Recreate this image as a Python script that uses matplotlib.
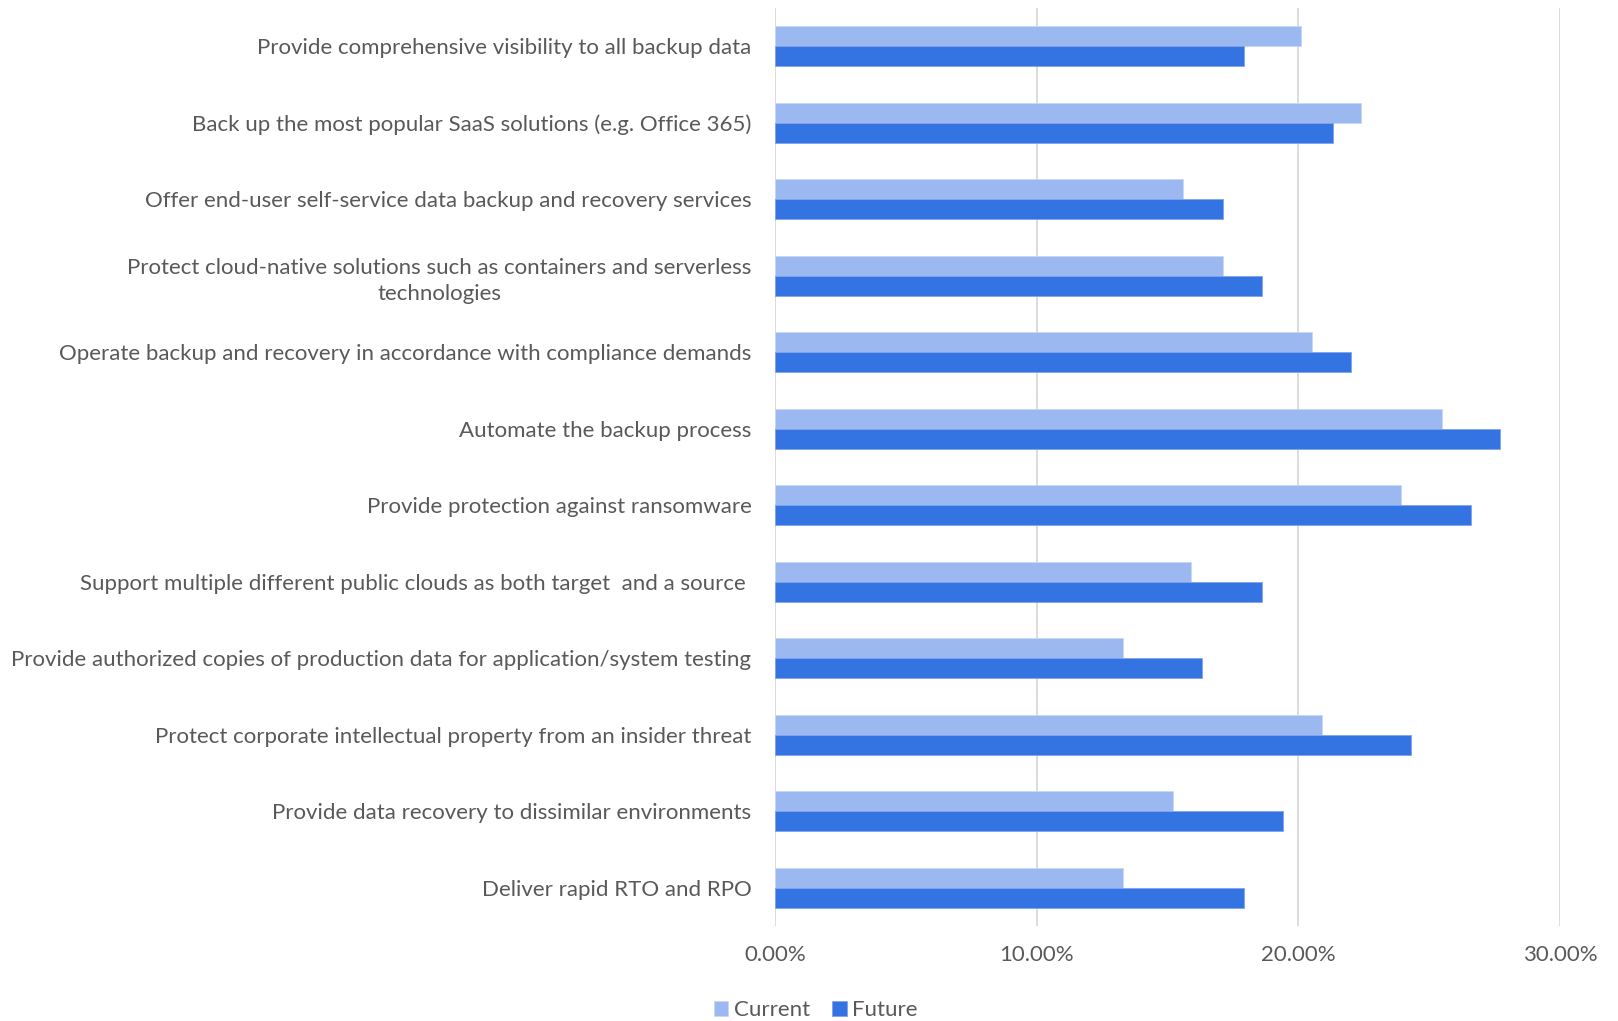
import numpy as np
import matplotlib.pyplot as plt
from matplotlib.ticker import PercentFormatter

plt.rcParams['font.family'] = ['Lato', 'DejaVu Sans']

categories = [
    "Provide comprehensive visibility to all backup data",
    "Back up the most popular SaaS solutions (e.g. Office 365)",
    "Offer end-user self-service data backup and recovery services",
    "Protect cloud-native solutions such as containers and serverless\ntechnologies",
    "Operate backup and recovery in accordance with compliance demands",
    "Automate the backup process",
    "Provide protection against ransomware",
    "Support multiple different public clouds as both target  and a source ",
    "Provide authorized copies of production data for application/system testing",
    "Protect corporate intellectual property from an insider threat",
    "Provide data recovery to dissimilar environments",
    "Deliver rapid RTO and RPO",
]
current = [20.1, 22.4, 15.6, 17.1, 20.5, 25.5, 23.9, 15.9, 13.3, 20.9, 15.2, 13.3]
future = [17.9, 21.3, 17.1, 18.6, 22.0, 27.7, 26.6, 18.6, 16.3, 24.3, 19.4, 17.9]

c_current = '#9BB8F0'
c_future = '#3474E2'
text_grey = '#595959'

fig = plt.figure(figsize=(16.18, 10.21), dpi=100)
ax = fig.add_axes([0.479, 0.093, 0.4853, 0.8992])

y = np.arange(len(categories))
h = 0.26
ax.barh(y - h / 2, np.array(current) / 100, height=h, color=c_current,
        edgecolor='#C9D8F7', linewidth=0.6, label='Current', zorder=3)
ax.barh(y + h / 2, np.array(future) / 100, height=h, color=c_future,
        edgecolor='#7FA3EC', linewidth=0.6, label='Future', zorder=3)

ax.set_xlim(0, 0.30)
ax.set_ylim(len(categories) - 0.5, -0.5)
ax.set_xticks([0, 0.10, 0.20, 0.30])
ax.xaxis.set_major_formatter(PercentFormatter(1.0, decimals=2))
ax.set_yticks(y)
ax.set_yticklabels(categories)
for lbl in ax.get_yticklabels():
    lbl.set_multialignment('center')
    lbl.set_linespacing(1.4)

ax.grid(axis='x', color='#D9D9D9', linewidth=1.3, zorder=0)
for s in ax.spines.values():
    s.set_visible(False)
ax.tick_params(axis='y', length=0, pad=17, labelsize=16, labelcolor=text_grey)
ax.tick_params(axis='x', length=0, pad=14, labelsize=16, labelcolor=text_grey)

ax.legend(loc='upper center', bbox_to_anchor=(0.052, -0.076),
          ncol=2, frameon=False, fontsize=16, labelcolor=text_grey,
          handlelength=0.65, handleheight=0.65, handletextpad=0.25,
          columnspacing=1.0, borderaxespad=0, borderpad=0.2)

fig.savefig('out.png', dpi=100, facecolor='white')
